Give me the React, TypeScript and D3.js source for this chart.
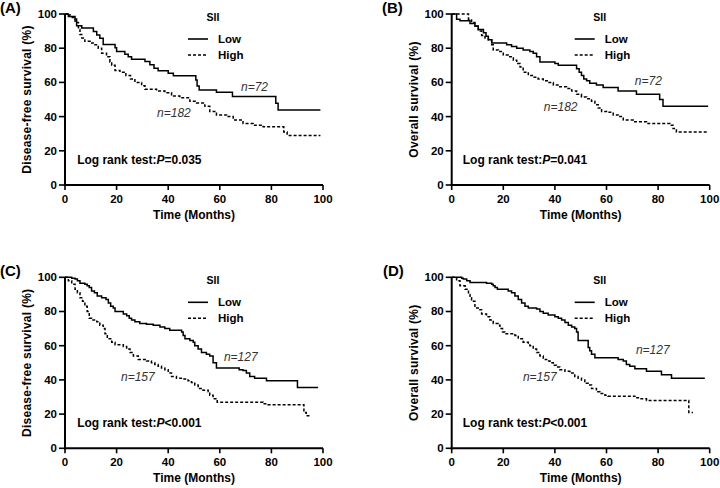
import React from "react";
import * as d3 from "d3";

type Pt = [number, number];

const xTicks = [0, 20, 40, 60, 80, 100];
const yTicks = [0, 20, 40, 60, 80, 100];
const legendTitle = "SII";
const groupLabels = ["Low", "High"];
const xTitle = "Time (Months)";

// (A) Disease-free survival, cohort 1
const lowA: Pt[] = [
  [0, 100], [1.3, 98.6], [3.9, 97.1], [4.5, 93.2], [6.5, 91.8], [11, 89.7], [12.3, 87.7],
  [13.5, 85.8], [14.8, 82.2], [19.4, 80.2], [20, 78], [23.2, 76.4], [24.5, 75], [25.8, 73.6],
  [31, 72.2], [32.9, 70.3], [34.5, 68.3], [36.1, 66.8], [40, 65.3], [42, 63.9], [50.7, 61.4],
  [51.2, 57.9], [52, 55.6], [58.7, 54.2], [64.9, 51.8], [81.7, 47.8], [82.6, 43.9], [99, 43.9],
];
const highA: Pt[] = [
  [0, 100], [1.9, 98], [3.9, 95], [5.2, 91], [5.8, 88], [6.5, 86], [7.7, 84], [9.7, 83],
  [11.6, 82], [12.9, 80], [14.2, 77], [16.1, 75], [17.4, 72], [18.1, 70], [19.4, 67], [21.3, 66],
  [23.6, 64], [25.4, 62], [27.1, 60], [29.7, 58], [31, 56], [35.5, 55], [38.7, 54], [41.3, 52],
  [44.5, 51], [48.4, 49], [51, 48], [54.2, 46], [56.1, 43], [58.7, 41], [62.6, 40], [65.2, 38],
  [69, 36], [72.9, 35], [76.8, 34], [84.8, 31], [86.1, 29], [99, 29],
];

// (B) Overall survival, cohort 1
const lowB: Pt[] = [
  [0, 100], [1.9, 97], [3.2, 96], [7.1, 94.5], [9, 93], [10.3, 91], [12.3, 89], [13.3, 87],
  [14.2, 85], [15.5, 83], [21.3, 82], [23.2, 81], [25.2, 80], [27.7, 79], [30.3, 78], [31.6, 77],
  [32.9, 75], [34.2, 72], [40, 71], [41.3, 70], [48.4, 68], [49.4, 66], [50.3, 64], [51.2, 62],
  [52.3, 61], [53.5, 59.5], [56.1, 58.5], [58.7, 57], [64.5, 55], [71.6, 53], [80.6, 50],
  [81.9, 46], [99.4, 46],
];
const highB: Pt[] = [
  [0, 100], [6.5, 97], [7.7, 95], [9, 93], [10.3, 90], [11.6, 87.5], [12.9, 86], [14.2, 85],
  [15.5, 82], [16.1, 79], [18.1, 78], [20, 76], [21.9, 75], [23.9, 73], [25.2, 71], [26.5, 69],
  [27.7, 66], [29.7, 64], [31.6, 63], [33.5, 62], [35.5, 61], [37.4, 60], [39.4, 58.5],
  [41.9, 57.5], [44.5, 56.5], [46.5, 55], [48.4, 53], [50.3, 51.5], [52.3, 50.5], [54.2, 49],
  [55.5, 47], [56.8, 45], [58.1, 43], [60.6, 42.5], [62.6, 41], [64.5, 40], [66.5, 38],
  [70.3, 37], [75.5, 36], [84.5, 35], [85.8, 33], [87.1, 31], [99.4, 31],
];

// (C) Disease-free survival, cohort 2
const lowC: Pt[] = [
  [0, 100], [2.6, 99.5], [3.9, 99], [4.8, 98], [5.8, 96.5], [7.7, 96], [8.6, 95], [9.4, 94],
  [10.3, 92], [11.4, 91], [12.5, 89], [14.2, 88], [15.9, 87], [16.8, 85], [17.7, 83], [18.7, 82],
  [19.4, 80], [22.6, 78.5], [23.9, 77.5], [24.9, 76], [25.8, 75], [27.1, 74], [29, 73],
  [31.6, 72.5], [34.2, 72], [36.8, 71], [38.7, 70], [40.6, 69], [45.2, 68], [45.8, 66],
  [46.5, 64], [48.4, 63], [49.7, 62], [50.3, 60], [51.6, 58], [52.9, 56], [54.8, 55],
  [56.1, 54], [57.4, 50], [58.7, 47], [67.5, 46], [69, 45.5], [70.3, 44], [71.6, 42],
  [73.5, 41], [78.1, 39.5], [90.1, 35.5], [98.1, 35.5],
];
const highC: Pt[] = [
  [0, 100], [1.3, 98], [2.6, 96], [3.9, 93], [4.8, 91], [5.8, 88], [6.8, 86], [7.7, 83],
  [8.6, 80], [9.4, 76], [10.3, 75], [12.3, 74], [13.5, 72], [14.8, 70], [15.5, 67], [16.4, 64],
  [18.1, 62], [19.4, 60.5], [22.6, 59.5], [23.9, 58], [25.2, 56], [26.5, 54], [28.4, 52],
  [31.6, 51], [33.5, 50], [34.8, 49], [36.1, 48], [37.4, 47], [38.7, 46], [40, 44], [41.3, 42],
  [43.2, 41], [45.8, 40.5], [47.7, 39.5], [49, 38.5], [50.3, 37], [51.6, 35], [53.5, 34],
  [55.5, 33], [56.1, 31], [57.4, 29], [59, 27], [76.8, 26], [78.7, 25.5], [92.6, 21],
  [93.5, 19], [95.5, 19],
];

// (D) Overall survival, cohort 2
const lowD: Pt[] = [
  [0, 100], [3.9, 99.5], [4.5, 99], [5.8, 98], [7.1, 97], [13.5, 96.5], [15.5, 96], [16.1, 95],
  [16.8, 94], [17.7, 93], [21.9, 92], [23.2, 91], [24.5, 89], [25.8, 87], [27.1, 85],
  [28.4, 83], [29.7, 82], [32.9, 81.5], [34.2, 80], [35.5, 79], [37.4, 78], [40, 77],
  [41.3, 76], [42.6, 75], [43.9, 73.5], [45.2, 72], [46.5, 71], [47.7, 70], [48.4, 68],
  [49, 63], [52.9, 59], [53.5, 57], [54.2, 55], [55.5, 53], [64.5, 52], [66.5, 51],
  [67.7, 49], [69, 48], [71, 46.5], [75.5, 45], [81.3, 43], [85.2, 41], [98.1, 41],
];
const highD: Pt[] = [
  [0, 100], [1.9, 98], [3.2, 95], [5.2, 93], [6.5, 90], [7.1, 88], [7.7, 86], [9, 82],
  [10.3, 81], [11.6, 78.5], [13.5, 77], [14.8, 75], [16.1, 73], [18.1, 72], [18.7, 70],
  [19.7, 68], [20.6, 67], [24.5, 66], [25.8, 64], [27.7, 62], [29.7, 61], [30.3, 60],
  [31.6, 58], [32.9, 56], [34.2, 54], [35.5, 52], [36.8, 51], [38.1, 50], [39.4, 48.5],
  [40.6, 47.5], [41.9, 46], [43.9, 45], [45.8, 44], [47.7, 42], [49, 41], [50.3, 40],
  [51.6, 38], [52.9, 37], [54.2, 35], [56.1, 33], [57.4, 32], [59.4, 31], [60.6, 30.5],
  [71, 29.5], [72.9, 29], [75.5, 28], [91.9, 21], [93.5, 21],
];

const panelLabels = ["(A)", "(B)", "(C)", "(D)"];
const yTitles = [
  "Disease-free survival (%)",
  "Overall survival (%)",
  "Disease-free survival (%)",
  "Overall survival (%)",
];
const nLowLabels = ["n=72", "n=72", "n=127", "n=127"];
const nHighLabels = ["n=182", "n=182", "n=157", "n=157"];
const pValues = ["=0.035", "=0.041", "<0.001", "<0.001"];
const lowSeries = [lowA, lowB, lowC, lowD];
const highSeries = [highA, highB, highC, highD];

// layout (positions in pixels / data units for annotations)
const layout = [
  { dx: 0, dy: 0, labelX: 0, nLow: [68.2, 55.1], nHigh: [35.7, 39.8] },
  { dx: 386.7, dy: 0, labelX: 382, nLow: [71, 58.5], nHigh: [35.7, 43] },
  { dx: 0, dy: 263.3, labelX: 0, nLow: [61.6, 51.3], nHigh: [21.7, 39.4] },
  { dx: 386.7, dy: 263.3, labelX: 383, nLow: [71.4, 55.1], nHigh: [27.6, 39.4] },
];

const FONT = "'Liberation Sans', Arial, Helvetica, sans-serif";
const PL = 65, PR = 323, PT = 14, PB = 185;

function Panel({ i }: { i: number }) {
  const L = layout[i];
  const x = d3.scaleLinear().domain([0, 100]).range([PL, PR]);
  const y = d3.scaleLinear().domain([0, 100]).range([PB, PT]);
  const line = d3
    .line<Pt>()
    .x((d) => x(d[0]))
    .y((d) => y(d[1]))
    .curve(d3.curveStepAfter);
  return (
    <g transform={`translate(${L.dx},${L.dy})`}>
      <text x={L.labelX - L.dx} y={13} fontSize={15} fontWeight="bold">
        {panelLabels[i]}
      </text>
      {/* axes */}
      <line x1={PL} x2={PL} y1={PT} y2={PB + 1} stroke="#000" strokeWidth={2} />
      <line x1={PL - 1} x2={PR} y1={PB} y2={PB} stroke="#000" strokeWidth={2} />
      {yTicks.map((t) => (
        <g key={"y" + t}>
          <line x1={PL - 6} x2={PL} y1={y(t)} y2={y(t)} stroke="#000" strokeWidth={1.6} />
          <text x={PL - 8} y={y(t) + 4} fontSize={11.5} fontWeight="bold" textAnchor="end">
            {t}
          </text>
        </g>
      ))}
      {xTicks.map((t) => (
        <g key={"x" + t}>
          <line x1={x(t)} x2={x(t)} y1={PB} y2={PB + 5} stroke="#000" strokeWidth={1.6} />
          <text x={x(t)} y={PB + 18} fontSize={11.5} fontWeight="bold" textAnchor="middle">
            {t}
          </text>
        </g>
      ))}
      <text x={(PL + PR) / 2} y={219} fontSize={12} fontWeight="bold" textAnchor="middle">
        {xTitle}
      </text>
      <text
        transform={`translate(${31},${(PT + PB) / 2}) rotate(-90)`}
        fontSize={12}
        fontWeight="bold"
        textAnchor="middle"
        letterSpacing={0.25}
      >
        {yTitles[i]}
      </text>
      {/* curves */}
      <path d={line(lowSeries[i]) || ""} fill="none" stroke="#000" strokeWidth={1.5} />
      <path
        d={line(highSeries[i]) || ""}
        fill="none"
        stroke="#000"
        strokeWidth={1.5}
        strokeDasharray="3,2"
      />
      {/* legend */}
      <text x={213} y={21} fontSize={10.5} fontWeight="bold" textAnchor="middle">
        {legendTitle}
      </text>
      <line x1={188} x2={208} y1={39} y2={39} stroke="#000" strokeWidth={1.6} />
      <text x={218} y={43} fontSize={11.5} fontWeight="bold">
        {groupLabels[0]}
      </text>
      <line x1={188} x2={208} y1={55} y2={55} stroke="#000" strokeWidth={1.6} strokeDasharray="3,2" />
      <text x={218} y={59} fontSize={11.5} fontWeight="bold">
        {groupLabels[1]}
      </text>
      {/* annotations */}
      <text x={x(L.nLow[0])} y={y(L.nLow[1])} fontSize={12} fontStyle="italic" fill="#333">
        {nLowLabels[i]}
      </text>
      <text x={x(L.nHigh[0])} y={y(L.nHigh[1])} fontSize={12} fontStyle="italic" fill="#333">
        {nHighLabels[i]}
      </text>
      <text x={x(i % 2 === 0 ? 4.7 : 4.3)} y={y(12.4)} fontSize={12} fontWeight="bold">
        Log rank test:<tspan fontStyle="italic">P</tspan>
        {pValues[i]}
      </text>
    </g>
  );
}

export default function App() {
  return (
    <svg
      width={720}
      height={488}
      viewBox="0 0 720 488"
      style={{ position: "absolute", left: 0, top: 0, background: "#fff" }}
      fontFamily={FONT}
    >
      <rect width={720} height={488} fill="#fff" />
      {[0, 1, 2, 3].map((i) => (
        <Panel key={i} i={i} />
      ))}
    </svg>
  );
}
